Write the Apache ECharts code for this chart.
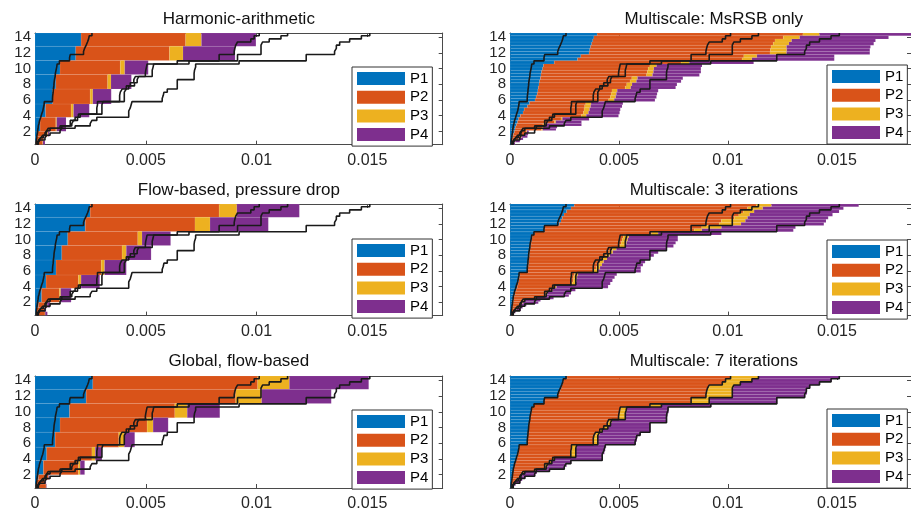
<!DOCTYPE html>
<html><head><meta charset="utf-8">
<script src="https://cdn.jsdelivr.net/npm/echarts@6/dist/echarts.min.js"></script>
<style>html,body{margin:0;padding:0;background:#fff;}#c{width:911px;height:512px;}</style>
</head><body><div id="c"></div>
<script>
// ---------- data ----------
const seriesNames = ['P1', 'P2', 'P3', 'P4'];
const xTickValues = [0, 0.005, 0.01, 0.015];
const yTickValues = [2, 4, 6, 8, 10, 12, 14];

// row (time-step) edges
const fineEdges = [0.3,0.6,0.9,1.2,1.5,1.8,2.1,2.4,2.7,3.0,3.4,3.8,4.2,4.6,5.0,5.4,5.8,6.2,6.6,7.0,7.4,7.8,8.2,8.6,9.0,9.4,9.8,10.2,10.6,11.0,11.4,11.8,12.2,12.6,13.0,13.4,13.8,14.2,14.55];
const coarseEdges = [0.3,0.8,1.35,2.0,3.8,5.5,7.4,9.25,11.05,12.85,14.55];

// reference (black stair lines): cumulative ends of P1..P4
const refP1End = [0.00005,0.00006,0.00008,0.00009,0.00011,0.00012,0.00014,0.00015,0.00018,0.00021,0.00026,0.0003,0.00035,0.00038,0.00041,0.00042,0.00079,0.0008,0.00082,0.00083,0.00085,0.00086,0.00088,0.00091,0.00092,0.00095,0.00098,0.001,0.0011,0.00156,0.00159,0.00219,0.00224,0.00231,0.00237,0.00242,0.00245,0.00257];
const refP2End = [0.00011,0.00017,0.00026,0.00035,0.00045,0.00053,0.0006,0.00113,0.00159,0.00159,0.00181,0.00196,0.00279,0.00279,0.00282,0.00282,0.00382,0.00382,0.00385,0.00393,0.00412,0.0043,0.00446,0.00453,0.00498,0.005,0.00503,0.00506,0.00642,0.00831,0.00831,0.00899,0.00902,0.00906,0.00914,0.00974,0.00989,0.01012];
const refP3End = [0.00012,0.00018,0.00027,0.00038,0.0005,0.00056,0.00068,0.00121,0.00166,0.00174,0.00192,0.00204,0.00302,0.00302,0.00302,0.00307,0.00403,0.00403,0.00403,0.00412,0.00423,0.00449,0.00461,0.00468,0.00529,0.00529,0.00533,0.00536,0.00695,0.00914,0.00914,0.0102,0.0102,0.0102,0.01027,0.01057,0.0111,0.0114];
const refP4End = [0.00015,0.00023,0.00045,0.00053,0.00068,0.00113,0.00121,0.00181,0.00249,0.00257,0.00279,0.00423,0.00423,0.0043,0.00434,0.00438,0.00574,0.00579,0.00582,0.00597,0.00642,0.00642,0.00642,0.00718,0.00718,0.0072,0.00725,0.00725,0.00921,0.01224,0.01224,0.01352,0.0136,0.0136,0.01375,0.0142,0.01473,0.01511];

// Harmonic-arithmetic (coarse rows)
const harmP1End = [0.00003,0.00005,0.0001,0.00023,0.00048,0.0008,0.00094,0.00113,0.00184,0.00208];
const harmP2End = [0.00035,0.00038,0.00057,0.00094,0.00163,0.00249,0.00328,0.00385,0.00607,0.0068];
const harmP3End = [0.00036,0.00039,0.00059,0.00098,0.00174,0.00261,0.00343,0.00405,0.00668,0.00751];
const harmP4End = [0.00045,0.00042,0.00065,0.0014,0.00245,0.00344,0.00435,0.00511,0.00903,0.00997];

// Flow-based, pressure drop
const flowP1End = [0.00004,0.00008,0.00015,0.0003,0.0005,0.00095,0.00121,0.00148,0.00227,0.00249];
const flowP2End = [0.00045,0.00041,0.00053,0.0011,0.00196,0.00299,0.00393,0.00464,0.00722,0.00831];
const flowP3End = [0.00046,0.00042,0.00055,0.00116,0.00208,0.00314,0.00412,0.00483,0.0079,0.00911];
const flowP4End = [0.00056,0.0005,0.00068,0.00163,0.00292,0.00412,0.00524,0.00612,0.01053,0.01193];

// Global, flow-based
const globP1End = [0.00003,0.00008,0.00015,0.00038,0.00053,0.00091,0.00113,0.00156,0.00231,0.00261];
const globP2End = [0.0005,0.00045,0.0006,0.00196,0.00257,0.00378,0.00506,0.00631,0.00906,0.01005];
const globP3End = [0.00051,0.00046,0.00061,0.00204,0.00272,0.00403,0.00533,0.00687,0.01023,0.01148];
const globP4End = [0.00053,0.0005,0.00065,0.00224,0.00302,0.0045,0.00601,0.00834,0.01337,0.01506];

// Multiscale: MsRSB only (fine rows)
const msP1End = [0.00005,0.00008,0.0001,0.00013,0.00016,0.0002,0.00023,0.00026,0.0003,0.00035,0.0004,0.00048,0.0006,0.00065,0.0008,0.0009,0.00115,0.0012,0.00125,0.00128,0.0013,0.00133,0.00136,0.0014,0.00142,0.00145,0.0015,0.00154,0.00203,0.0031,0.00325,0.00363,0.00366,0.0037,0.00375,0.0038,0.00385,0.004];
const msP2End = [0.0001,0.00023,0.00038,0.00053,0.00068,0.00076,0.00144,0.00147,0.00151,0.00204,0.00234,0.00328,0.00337,0.0034,0.00343,0.00348,0.00453,0.00461,0.00464,0.00468,0.00529,0.00536,0.00551,0.00559,0.00627,0.0063,0.00634,0.00642,0.00785,0.01065,0.01073,0.01193,0.01195,0.01198,0.01208,0.01216,0.01254,0.01344];
const msP3End = [0.00011,0.00024,0.00039,0.00055,0.0007,0.00078,0.0015,0.00152,0.00156,0.0021,0.0024,0.0035,0.0036,0.00365,0.0037,0.00372,0.00478,0.00485,0.00488,0.00492,0.00554,0.0056,0.0058,0.00585,0.00654,0.00658,0.0066,0.00672,0.00823,0.0111,0.01133,0.01269,0.0127,0.01269,0.0128,0.01292,0.01329,0.0142];
const msP4End = [0.00023,0.00045,0.0006,0.0008,0.00083,0.00086,0.00211,0.00216,0.00328,0.00328,0.00363,0.00498,0.00503,0.00506,0.00514,0.00518,0.00665,0.00672,0.00675,0.0068,0.0076,0.00766,0.00785,0.00793,0.00869,0.00876,0.00876,0.00881,0.01118,0.01488,0.01488,0.01651,0.01651,0.01654,0.01669,0.01677,0.01737,0.0185];

// Multiscale: 3 iterations
const it3P1End = [0.00005,0.00007,0.00009,0.0001,0.00012,0.00013,0.00015,0.00017,0.0002,0.00023,0.00028,0.00033,0.00037,0.0004,0.00043,0.00045,0.0008,0.00082,0.00084,0.00085,0.00087,0.00089,0.0009,0.00092,0.00094,0.00097,0.001,0.00102,0.00113,0.00158,0.0016,0.00226,0.00234,0.0024,0.00248,0.0026,0.0028,0.00295];
const it3P2End = [0.00012,0.00018,0.00028,0.00038,0.00048,0.00056,0.00063,0.00115,0.00162,0.00165,0.00188,0.00205,0.00285,0.0029,0.00292,0.00296,0.00385,0.00395,0.00405,0.00413,0.00425,0.0044,0.00455,0.0047,0.00505,0.0051,0.00515,0.0052,0.0065,0.00845,0.0088,0.0096,0.0097,0.0103,0.0105,0.0107,0.0109,0.0113];
const it3P3End = [0.00013,0.00019,0.0003,0.0004,0.0005,0.00059,0.00067,0.0012,0.00168,0.00172,0.00196,0.00213,0.003,0.00305,0.00308,0.00312,0.00405,0.00413,0.00422,0.0043,0.00445,0.00458,0.00472,0.00488,0.0053,0.00535,0.0054,0.00545,0.0068,0.0088,0.0097,0.0106,0.0108,0.0109,0.011,0.0112,0.0116,0.012];
const it3P4End = [0.00016,0.00025,0.0005,0.00058,0.00075,0.0013,0.0014,0.002,0.0027,0.0028,0.003,0.0045,0.0046,0.0047,0.0048,0.0049,0.006,0.006,0.0061,0.0062,0.0064,0.0066,0.0068,0.0072,0.0075,0.0076,0.0077,0.0077,0.0097,0.013,0.0131,0.0144,0.0145,0.0146,0.0148,0.0151,0.0153,0.016];

// Multiscale: 7 iterations
const it7P1End = [0.00005,0.00006,0.00008,0.00009,0.00011,0.00012,0.00014,0.00015,0.00018,0.00021,0.00026,0.0003,0.00035,0.00038,0.00041,0.00042,0.00079,0.0008,0.00082,0.00083,0.00085,0.00086,0.00088,0.00091,0.00092,0.00095,0.00098,0.001,0.0011,0.00156,0.00159,0.00219,0.00224,0.00231,0.00237,0.00242,0.00245,0.00262];
const it7P2End = [0.00011,0.00017,0.00026,0.00035,0.00045,0.00053,0.0006,0.00113,0.00159,0.00159,0.00181,0.00196,0.00279,0.00279,0.00282,0.00282,0.00382,0.00382,0.00385,0.00393,0.00412,0.0043,0.00446,0.00453,0.00498,0.005,0.00503,0.00506,0.00642,0.00831,0.00831,0.00899,0.00902,0.00906,0.00914,0.00974,0.00989,0.01012];
const it7P3End = [0.00012,0.00018,0.00027,0.00038,0.0005,0.00056,0.00068,0.00121,0.00166,0.00174,0.00192,0.00204,0.00302,0.00302,0.00302,0.00307,0.00403,0.00403,0.00403,0.00412,0.00423,0.00449,0.00461,0.00468,0.00529,0.00529,0.00533,0.00536,0.00695,0.00914,0.00914,0.0102,0.0102,0.0102,0.01027,0.01057,0.0111,0.0114];
const it7P4End = [0.00018,0.00026,0.00048,0.00056,0.00071,0.00116,0.00124,0.00184,0.00252,0.0026,0.00282,0.00426,0.00426,0.00433,0.00437,0.00441,0.00577,0.00582,0.00585,0.006,0.00645,0.00645,0.00645,0.00721,0.00721,0.00723,0.00728,0.00728,0.00924,0.01227,0.01227,0.01355,0.01363,0.01363,0.01378,0.01423,0.01476,0.01514];

const panelTitles = ['Harmonic-arithmetic','Multiscale: MsRSB only','Flow-based, pressure drop','Multiscale: 3 iterations','Global, flow-based','Multiscale: 7 iterations'];

// ---------- layout / style ----------
const FONT = '"Liberation Sans", Arial, Helvetica, sans-serif';
const COLORS = ['#0072BD', '#D95319', '#EDB120', '#7E2F8E'];
const AX = '#4a4a4a';
const panels = [
  {edges: coarseEdges, ends: [harmP1End, harmP2End, harmP3End, harmP4End]},
  {edges: fineEdges,   ends: [msP1End, msP2End, msP3End, msP4End]},
  {edges: coarseEdges, ends: [flowP1End, flowP2End, flowP3End, flowP4End]},
  {edges: fineEdges,   ends: [it3P1End, it3P2End, it3P3End, it3P4End]},
  {edges: coarseEdges, ends: [globP1End, globP2End, globP3End, globP4End]},
  {edges: fineEdges,   ends: [it7P1End, it7P2End, it7P3End, it7P4End]}
];
const refEnds = [refP1End, refP2End, refP3End, refP4End];
const colLeft = [35, 510];
const rowTop = [33, 204, 376];
const rowH = [111.7, 111.6, 112.3];
const gridW = 407.7;
const legendPos = [[352, 67], [827, 65], [352, 239], [827, 240], [352, 410], [827, 409]];
const titleTop = [11, 182, 353];

function stairs(edges, xs) {
  const pts = [];
  for (let i = 0; i < xs.length; i++) {
    pts.push([xs[i], edges[i]]);
    pts.push([xs[i], edges[i + 1]]);
  }
  return pts;
}
function barRows(edges, ends, k) {
  const out = [];
  for (let i = 0; i < edges.length - 1; i++) {
    const a = k === 0 ? 0 : ends[k - 1][i];
    const b = ends[k][i];
    if (b > a) out.push([a, b, edges[i], edges[i + 1]]);
  }
  return out;
}
function renderBar(params, api) {
  const p0 = api.coord([api.value(0), api.value(3)]);
  const p1 = api.coord([api.value(1), api.value(2)]);
  return {
    type: 'rect',
    shape: {x: p0[0], y: p0[1], width: p1[0] - p0[0], height: p1[1] - p0[1]},
    style: {fill: api.visual('color'), stroke: 'rgba(255,255,255,0.16)', lineWidth: 0.5}
  };
}

const grid = [], xAxis = [], yAxis = [], series = [], legend = [], title = [];
panels.forEach((p, i) => {
  const col = i % 2, row = Math.floor(i / 2);
  grid.push({left: colLeft[col], top: rowTop[row], width: gridW, height: rowH[row], containLabel: false});
  const xa = {gridIndex: i, type: 'value', min: 0, max: 0.0184,
    axisLine: {show: true, onZero: false, lineStyle: {color: AX, width: 1}},
    axisTick: {show: true, inside: true, length: 4, customValues: xTickValues, lineStyle: {color: AX}},
    splitLine: {show: false}};
  xAxis.push(Object.assign({}, xa, {position: 'bottom',
    axisLabel: {show: true, margin: 8, fontSize: 16, color: '#262626', fontFamily: FONT,
      customValues: xTickValues, formatter: v => String(+(+v).toFixed(4))}}));
  xAxis.push(Object.assign({}, xa, {position: 'top', axisLabel: {show: false}}));
  const ya = {gridIndex: i, type: 'value', min: 0.3, max: 14.55,
    axisLine: {show: true, onZero: false, lineStyle: {color: AX, width: 1}},
    axisTick: {show: true, inside: true, length: 4, customValues: yTickValues, lineStyle: {color: AX}},
    splitLine: {show: false}};
  yAxis.push(Object.assign({}, ya, {position: 'left',
    axisLabel: {show: true, margin: 4, fontSize: 15, color: '#262626', fontFamily: FONT, customValues: yTickValues}}));
  yAxis.push(Object.assign({}, ya, {position: 'right', axisLabel: {show: false}}));

  for (let k = 0; k < 4; k++) {
    series.push({type: 'custom', name: seriesNames[k], xAxisIndex: 2 * i, yAxisIndex: 2 * i,
      itemStyle: {color: COLORS[k]}, renderItem: renderBar, clip: true, silent: true, z: 2,
      encode: {x: [0, 1], y: [2, 3]}, data: barRows(p.edges, p.ends, k)});
  }
  for (let k = 0; k < 4; k++) {
    series.push({type: 'line', xAxisIndex: 2 * i, yAxisIndex: 2 * i, data: stairs(fineEdges, refEnds[k]),
      symbol: 'none', showSymbol: false, silent: true, z: 3,
      lineStyle: {color: '#1a1a1a', width: 1.6}});
  }
  legend.push({data: seriesNames, orient: 'vertical', left: legendPos[i][0], top: legendPos[i][1],
    itemWidth: 48, itemHeight: 13, itemGap: 3.7, padding: [4, 4, 4, 5], icon: 'rect',
    borderColor: '#333', borderWidth: 1, backgroundColor: '#fff', selectedMode: false, z: 10,
    textStyle: {fontSize: 15, color: '#000', fontFamily: FONT}});
  title.push({text: panelTitles[i], left: colLeft[col] + gridW / 2, top: titleTop[row], textAlign: 'center', padding: 0,
    textStyle: {fontSize: 17, fontWeight: 'normal', color: '#111', fontFamily: FONT}});
});

const chart = echarts.init(document.getElementById('c'), null, {renderer: 'canvas'});
chart.setOption({animation: false, backgroundColor: '#fff', title, grid, xAxis, yAxis, legend, series});
</script>
</body></html>
